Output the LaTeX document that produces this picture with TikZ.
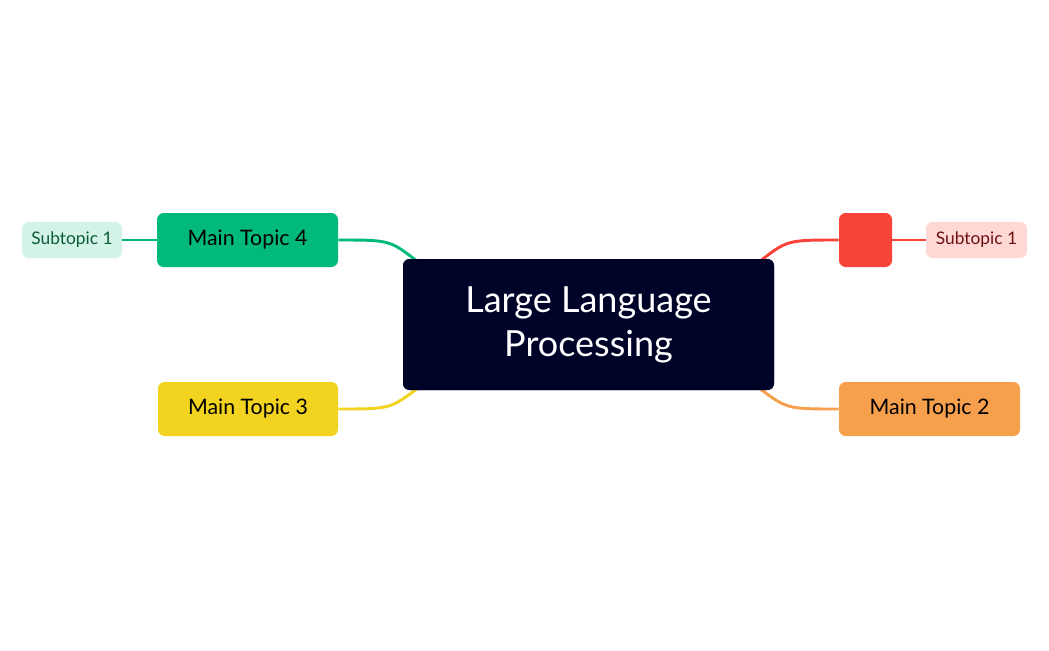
\documentclass[tikz,border=0pt]{standalone}
\usepackage{fontspec}
\setmainfont{Lato}
\definecolor{cdark}{HTML}{000328}
\definecolor{cgreen}{HTML}{00B97A}
\definecolor{cgreenl}{HTML}{D2F3E6}
\definecolor{cgreent}{HTML}{0B5A3C}
\definecolor{cred}{HTML}{F7443A}
\definecolor{credl}{HTML}{FFD8D6}
\definecolor{credt}{HTML}{6E1010}
\definecolor{corange}{HTML}{F6A04D}
\definecolor{cyellow}{HTML}{F2D320}
\begin{document}
\begin{tikzpicture}[x=0.75pt,y=-0.75pt,
 box/.style={rounded corners=5pt,inner sep=0pt,font=\fontsize{16}{18}\selectfont},
 sub/.style={rounded corners=5pt,inner sep=0pt,font=\fontsize{13}{15}\selectfont},
 link/.style={line width=2.2pt}]
\useasboundingbox (0,0) rectangle (1049,650);
\node[box,fill=cdark,text=white,minimum width=371*0.75pt,minimum height=131*0.75pt,align=center,font=\fontsize{27}{33}\selectfont] (c) at (588.5,324.5) {Large Language\\Processing};
\node[box,fill=cgreen,minimum width=181*0.75pt,minimum height=54*0.75pt] (m4) at (247.5,240) {Main Topic 4};
\node[sub,fill=cgreenl,text=cgreent,minimum width=100*0.75pt,minimum height=36*0.75pt] (s4) at (72,240) {Subtopic 1};
\node[box,fill=cyellow,minimum width=180*0.75pt,minimum height=54*0.75pt] (m3) at (248,409) {Main Topic 3};
\node[box,fill=cred,minimum width=53*0.75pt,minimum height=54*0.75pt] (m1) at (865.5,240) {};
\node[sub,fill=credl,text=credt,minimum width=101*0.75pt,minimum height=36*0.75pt] (s1) at (976.5,240) {Subtopic 1};
\node[box,fill=corange,minimum width=181*0.75pt,minimum height=54*0.75pt] (m2) at (929.5,409) {Main Topic 2};
\begin{scope}[on background layer/.style={}]
\end{scope}
\draw[link,cgreen] (m4.east) .. controls (390,240) .. (418,262);
\draw[link,cgreen] (s4.east) -- (m4.west);
\draw[link,cyellow] (m3.east) .. controls (390,409) .. (418,388);
\draw[link,cred] (m1.west) .. controls (787,240) .. (759,262);
\draw[link,cred] (m1.east) -- (s1.west);
\draw[link,corange] (m2.west) .. controls (787,409) .. (759,388);
\node[box,fill=cdark,text=white,minimum width=371*0.75pt,minimum height=131*0.75pt,align=center,font=\fontsize{27}{33}\selectfont] at (588.5,324.5) {Large Language\\Processing};
\end{tikzpicture}
\end{document}
